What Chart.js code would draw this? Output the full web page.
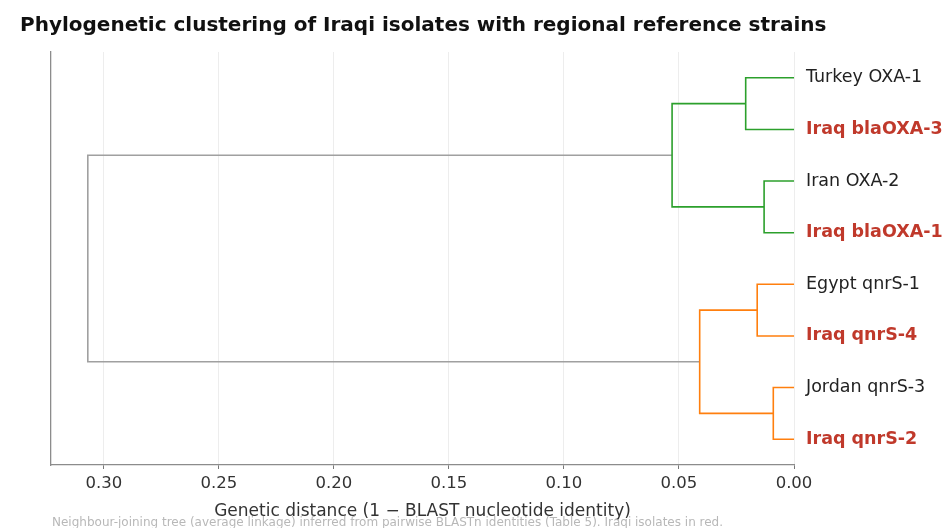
<!DOCTYPE html>
<html>
<head>
<meta charset="utf-8">
<script src="https://cdn.jsdelivr.net/npm/chart.js@4.4.0/dist/chart.umd.min.js"></script>
<style>
  html, body { margin: 0; padding: 0; background: #fff; }
  #wrap { width: 952px; height: 528px; position: relative; }
</style>
</head>
<body>
<div id="wrap"><canvas id="tree"></canvas></div>
<script>
// leaves, top to bottom as drawn
const leafLabels = ['Turkey OXA-1', 'Iraq blaOXA-3', 'Iran OXA-2', 'Iraq blaOXA-1',
                    'Egypt qnrS-1', 'Iraq qnrS-4', 'Jordan qnrS-3', 'Iraq qnrS-2'];
const iraqiLeaf = [false, true, false, true, false, true, false, true];

// merges: node ids 0-7 are leaves, merge k creates node 8 + k
const mergeLeft = [0, 2, 4, 6, 8, 10, 12];
const mergeRight = [1, 3, 5, 7, 9, 11, 13];
const mergeHeight = [0.021, 0.013, 0.016, 0.009, 0.053, 0.041, 0.307];
const mergeClade = ['oxa', 'oxa', 'qnr', 'qnr', 'oxa', 'qnr', 'root'];

const xTicks = [0.30, 0.25, 0.20, 0.15, 0.10, 0.05, 0.00];

const cladeColors = { oxa: '#2ca02c', qnr: '#ff7f0e', root: '#a0a0a0' };
const FONT = "'DejaVu Sans', sans-serif";

// leaf slots like scipy: 5, 15, 25 ... from the bottom
const nodeY = leafLabels.map((_, i) => (leafLabels.length - 1 - i) * 10 + 5);
const nodeH = leafLabels.map(() => 0);

const datasets = [];
mergeLeft.forEach((a, k) => {
    const b = mergeRight[k];
    const h = mergeHeight[k];
    nodeY.push((nodeY[a] + nodeY[b]) / 2);
    nodeH.push(h);
    datasets.push({
        data: [
            { x: nodeH[a], y: nodeY[a] },
            { x: h, y: nodeY[a] },
            { x: h, y: nodeY[b] },
            { x: nodeH[b], y: nodeY[b] }
        ],
        borderColor: cladeColors[mergeClade[k]],
        borderWidth: 1.6,
        showLine: true,
        pointRadius: 0,
        tension: 0
    });
});

const textPlugin = {
    id: 'texts',
    afterDraw(chart) {
        const ctx = chart.ctx;
        const area = chart.chartArea;
        ctx.save();
        ctx.textBaseline = 'alphabetic';
        ctx.fillStyle = '#111';
        ctx.font = 'bold 20px ' + FONT;
        ctx.textAlign = 'left';
        ctx.fillText('Phylogenetic clustering of Iraqi isolates with regional reference strains', 20, 31);

        ctx.fillStyle = '#333';
        ctx.font = '17px ' + FONT;
        ctx.textAlign = 'center';
        ctx.fillText('Genetic distance (1 \u2212 BLAST nucleotide identity)', (area.left + area.right) / 2, 516);

        ctx.fillStyle = '#b8b8b8';
        ctx.font = '12px ' + FONT;
        ctx.textAlign = 'left';
        ctx.fillText('Neighbour-joining tree (average linkage) inferred from pairwise BLASTn identities (Table 5). Iraqi isolates in red.', 52, 526);
        ctx.restore();
    }
};

new Chart(document.getElementById('tree'), {
    type: 'scatter',
    data: { datasets: datasets },
    options: {
        responsive: true,
        maintainAspectRatio: false,
        animation: false,
        layout: { padding: { left: 51, right: 0, top: 52, bottom: 0 } },
        plugins: {
            legend: { display: false },
            tooltip: { enabled: false }
        },
        scales: {
            x: {
                type: 'linear',
                reverse: true,
                min: 0,
                max: 0.323,
                afterBuildTicks: scale => { scale.ticks = xTicks.map(v => ({ value: v })); },
                afterFit: scale => { scale.height = 63; },
                grid: { color: 'rgba(0,0,0,0.07)', tickColor: '#777', tickLength: 4 },
                border: { color: '#8c8c8c', width: 1.3 },
                ticks: {
                    padding: 5,
                    color: '#333',
                    font: { family: FONT, size: 16.5 },
                    callback: v => v.toFixed(2)
                }
            },
            y: {
                type: 'linear',
                position: 'left',
                min: 0,
                max: 80,
                afterFit: scale => { scale.width = 0; },
                grid: { display: false },
                border: { color: '#8c8c8c', width: 1.3 },
                ticks: { display: false }
            },
            leaves: {
                type: 'linear',
                position: 'right',
                min: 0,
                max: 80,
                afterBuildTicks: scale => { scale.ticks = nodeY.slice(0, leafLabels.length).map(v => ({ value: v })); },
                afterFit: scale => { scale.width = 158; },
                grid: { display: false, drawTicks: false },
                border: { display: false },
                ticks: {
                    padding: 12,
                    autoSkip: false,
                    callback: (v, i) => leafLabels[i],
                    color: c => iraqiLeaf[c.index] ? '#c0392b' : '#222',
                    font: c => ({ family: FONT, size: 17.5, weight: iraqiLeaf[c.index] ? 'bold' : 'normal' })
                }
            }
        }
    },
    plugins: [textPlugin]
});
</script>
</body>
</html>
